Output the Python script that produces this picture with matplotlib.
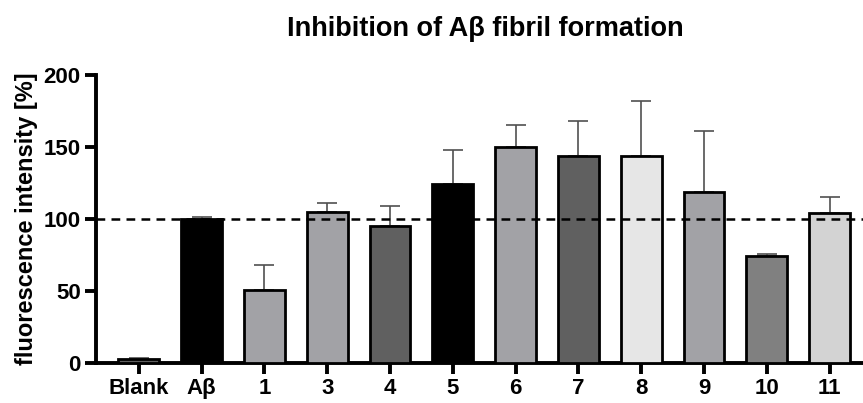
import matplotlib
matplotlib.use("Agg")
import matplotlib.pyplot as plt

# values
labels = ["Blank", "Aβ", "1", "3", "4", "5", "6", "7", "8", "9", "10", "11"]
means = [3, 100, 51, 105, 95, 124, 150, 144, 144, 119, 74, 104]
errors = [0.8, 1.5, 17, 6, 14, 24, 15, 24, 38, 42, 2, 11]
colors = ["#606060", "#000000", "#a2a2a6", "#a2a2a6", "#606060", "#000000",
          "#a2a2a6", "#606060", "#e6e6e6", "#a2a2a6", "#808080", "#d3d3d3"]

plt.rcParams['font.family'] = ['Liberation Sans', 'DejaVu Sans']
plt.rcParams['font.weight'] = 'bold'

fig = plt.figure(figsize=(8.63, 4.03), dpi=100)
ax = fig.add_axes([96 / 863, 40 / 403, 1 - 96 / 863, 288 / 403])

x = list(range(len(labels)))
ax.bar(x, means, width=0.65, color=colors, edgecolor="black", linewidth=2.0, zorder=3)
ax.errorbar(x, means, yerr=[[0] * len(errors), errors], fmt="none",
            ecolor="#505050", elinewidth=1.2, capsize=7, capthick=1.2, zorder=2)

# reference line at 100 %
ax.axhline(100, color="black", linestyle=(0, (3.5, 2.5)), linewidth=1.8, zorder=4)

ax.set_xlim(-0.68, 11.53)
ax.set_ylim(0, 200)
ax.set_yticks([0, 50, 100, 150, 200])
ax.set_xticks(x)
ax.set_xticklabels(labels)

for side in ["top", "right"]:
    ax.spines[side].set_visible(False)
for side in ["left", "bottom"]:
    ax.spines[side].set_linewidth(2.8)
ax.tick_params(axis="both", width=2.8, length=8, labelsize=16, pad=3)

ax.set_ylabel("fluorescence intensity [%]", fontsize=17, fontweight="bold", labelpad=4)
fig.text(485 / 863, 1 - 29 / 403, "Inhibition of Aβ fibril formation",
         ha="center", va="center", fontsize=19.5, fontweight="bold")

fig.savefig("out.png", dpi=100)
